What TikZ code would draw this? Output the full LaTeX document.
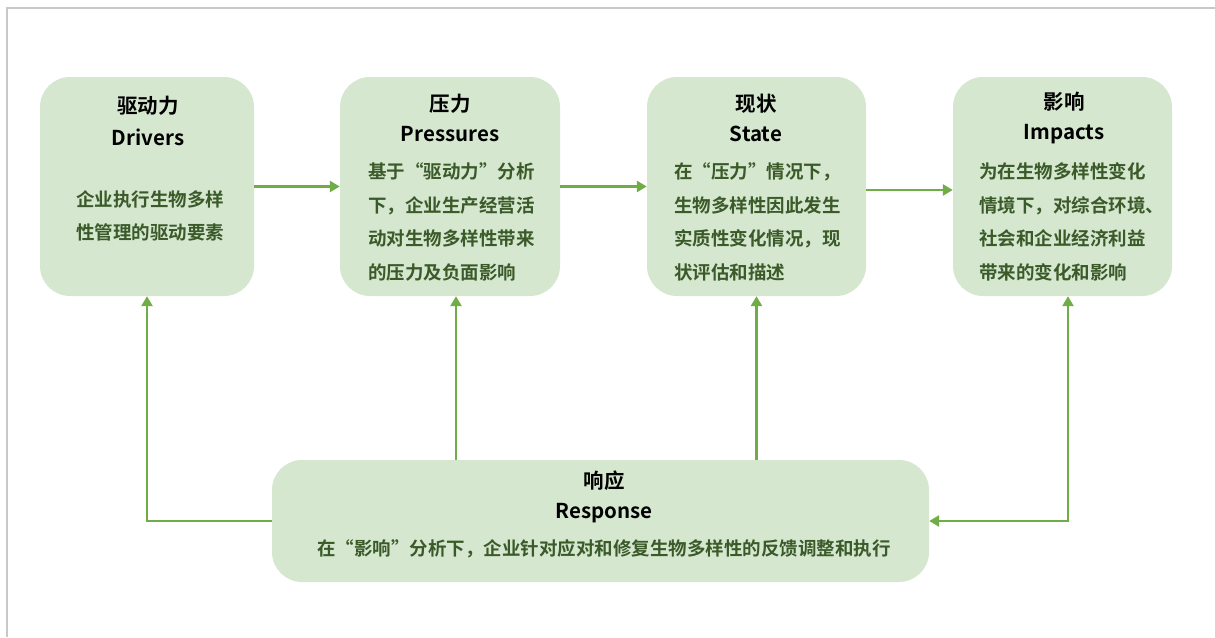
\documentclass[tikz,border=0pt]{standalone}
\usepackage{fontspec}
\setmainfont{Noto Sans CJK SC Bold}
\usetikzlibrary{arrows.meta,calc}
\definecolor{boxfill}{HTML}{D6E7D0}
\definecolor{arrowgreen}{HTML}{70AD47}
\definecolor{bodygreen}{HTML}{3B5A29}
\definecolor{framegray}{HTML}{C8C8C8}
\newcommand\qlft{\makebox[1em][r]{“}}
\newcommand\qrgt{\makebox[1em][l]{”}}
\begin{document}
\begin{tikzpicture}[x=1pt,y=-1pt,
  box/.style={fill=boxfill,draw=none,rounded corners=30pt,inner sep=0pt},
  ttl/.style={font=\fontsize{20.5}{30}\selectfont,align=center,text=black,inner sep=0pt},
  body/.style={font=\fontsize{18.5}{33.5}\selectfont,text=bodygreen,inner sep=0pt},
  conn/.style={draw=arrowgreen,line width=2.8pt,-{Triangle[length=10pt,width=11pt]}},
  conn2/.style={draw=arrowgreen,line width=2.8pt,{Triangle[length=10pt,width=11pt]}-{Triangle[length=10pt,width=11pt]}}]
\useasboundingbox (0,0) rectangle (1215,637);
\draw[framegray,line width=1.5pt] (7,637) -- (7,8) -- (1215,8);

% boxes
\node[box,minimum width=214pt,minimum height=219pt] (d) at (147,186.5) {};
\node[box,minimum width=220pt,minimum height=219pt] (p) at (450,186.5) {};
\node[box,minimum width=219pt,minimum height=219pt] (s) at (756.5,186.5) {};
\node[box,minimum width=219pt,minimum height=219pt] (im) at (1062.5,186.5) {};
\node[box,minimum width=657pt,minimum height=122pt] (resp) at (600.5,521) {};

% titles
\node[ttl,font=\fontsize{20.5}{32}\selectfont] (dt) at (148,121) {驱动力\\Drivers};
\node[ttl] (pt) at (450,118) {压力\\Pressures};
\node[ttl] (st) at (756,118) {现状\\State};
\node[ttl] (it) at (1064,118) {影响\\Impacts};
\node[ttl] (rt) at (604,497) {响应\\Response};

% bodies
\node[body,align=center] (db) at (150,216) {企业执行生物多样\\性管理的驱动要素};
\node[body,align=left,anchor=west] (pb) at (368,222) {基于\qlft 驱动力\qrgt 分析\\下，企业生产经营活\\动对生物多样性带来\\的压力及负面影响};
\node[body,align=left,anchor=west] (sb) at (674,222) {在\qlft 压力\qrgt 情况下，\\生物多样性因此发生\\实质性变化情况，现\\状评估和描述};
\node[body,align=left,anchor=west] (ib) at (979,222) {为在生物多样性变化\\情境下，对综合环境、\\社会和企业经济利益\\带来的变化和影响};
\node[body,align=center] (rb) at (604,549) {在\qlft 影响\qrgt 分析下，企业针对应对和修复生物多样性的反馈调整和执行};

% connectors
\draw[conn] (d.east) -- (p.west);
\draw[conn] (p.east) -- (s.west);
\draw[conn] ([yshift=-3.5pt]s.east) -- ([yshift=-3.5pt]im.west);
\draw[conn] (resp.west) -| (d.south);
\draw[conn] ([xshift=6pt]p.south |- resp.north) -- ([xshift=6pt]p.south);
\draw[conn] (s.south |- resp.north) -- (s.south);
\draw[conn2] ([xshift=5.5pt]im.south) |- (resp.east);
\end{tikzpicture}
\end{document}
